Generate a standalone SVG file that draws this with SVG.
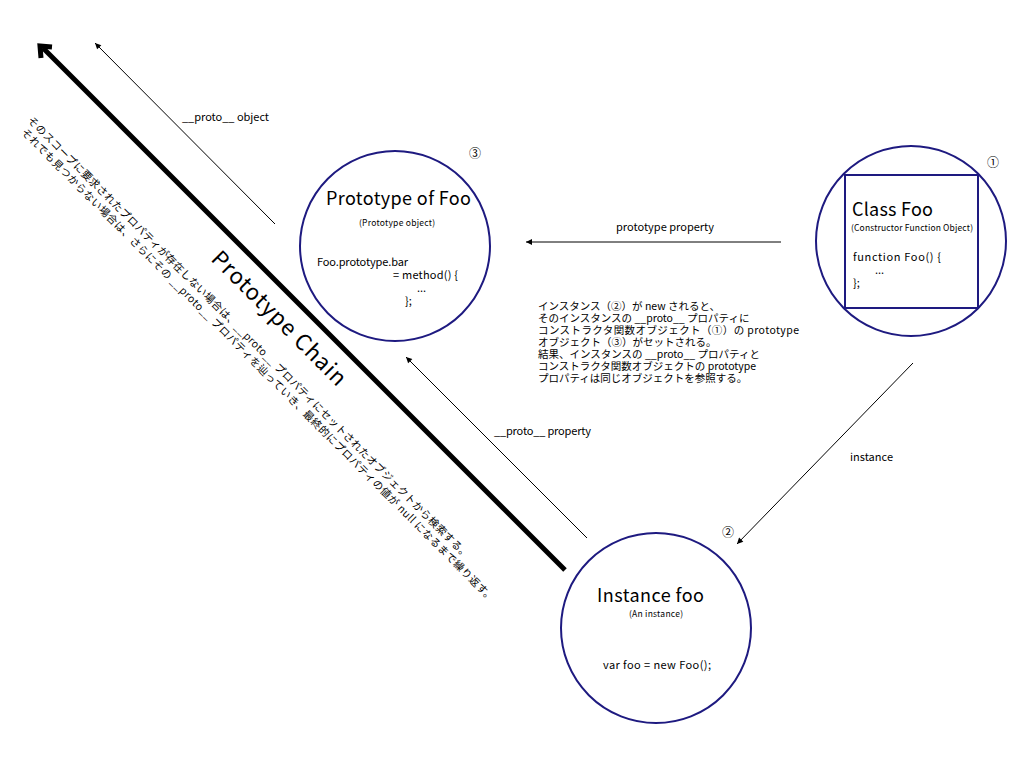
<svg xmlns="http://www.w3.org/2000/svg" width="1024" height="768" viewBox="0 0 1024 768">
<defs>
<style>
text{font-family:"Noto Sans CJK JP","DejaVu Sans",sans-serif;fill:#000}
.node{fill:none;stroke:#1e1a80;stroke-width:2}
.t18{font-size:18px}
.t11{font-size:11px}
.tj{font-size:10.5px}
.t8{font-size:8.5px}
.num{font-size:12px;text-anchor:middle}
.thin{stroke:#000;stroke-width:1;fill:none;marker-end:url(#ah)}
</style>
<marker id="ah" viewBox="0 0 10 10" refX="10" refY="5" markerWidth="8" markerHeight="6" markerUnits="userSpaceOnUse" orient="auto">
<path d="M0,0 L10,5 L0,10 z" fill="#000"/>
</marker>
</defs>
<rect width="1024" height="768" fill="#fff"/>

<g id="connectors">
<line class="thin" x1="781" y1="242" x2="526" y2="242"/>
<line class="thin" x1="587" y1="538" x2="406" y2="357"/>
<line class="thin" x1="913" y1="363" x2="737" y2="544"/>
<line class="thin" x1="275" y1="224" x2="95" y2="43"/>
<line x1="565" y1="570" x2="43" y2="48" stroke="#000" stroke-width="5"/>
<polyline points="52,47 40,46 41,58" fill="none" stroke="#000" stroke-width="5" stroke-linejoin="miter"/>
<text class="t11" x="616" y="231" textLength="98">prototype property</text>
<text class="t11" x="494" y="435" textLength="97">__proto__ property</text>
<text class="t11" x="850" y="461" textLength="43">instance</text>
<text class="t11" x="182" y="121" textLength="87">__proto__ object</text>
</g>

<g id="prototype-chain-label">
<text font-size="22" transform="translate(210,260) rotate(45)" textLength="180">Prototype Chain</text>
<g transform="translate(27,121) rotate(45)">
<text class="tj" x="0" y="0" textLength="620">そのスコープに要求されたプロパティが存在しない場合は、__proto__ プロパティにセットされたオブジェクトから検索する。</text>
<text class="tj" x="4" y="13" textLength="664">それでも見つからない場合は、さらにその __proto__ プロパティを辿っていき、最終的にプロパティの値が null になるまで繰り返す。</text>
</g>
</g>

<g id="prototype-of-foo">
<circle class="node" cx="395" cy="246" r="95"/>
<text class="num" x="475" y="158">③</text>
<text class="t18" x="326" y="205" textLength="145">Prototype of Foo</text>
<text class="t8" x="359" y="226" textLength="76">(Prototype object)</text>
<text class="t11" x="317" y="266" textLength="91">Foo.prototype.bar</text>
<text class="t11" x="393" y="279" textLength="65">= method()  {</text>
<text class="t11" x="417" y="292">...</text>
<text class="t11" x="405" y="305">};</text>
</g>

<g id="class-foo">
<circle class="node" cx="911" cy="241" r="95"/>
<rect class="node" x="845" y="175" width="133" height="133"/>
<text class="num" x="993" y="167">①</text>
<text class="t18" x="852" y="216" textLength="81">Class Foo</text>
<text class="t8" x="851" y="231" textLength="122">(Constructor Function Object)</text>
<text class="t11" x="853" y="261" textLength="88">function Foo()  {</text>
<text class="t11" x="875" y="274">...</text>
<text class="t11" x="853" y="287">};</text>
</g>

<g id="instance-foo">
<circle class="node" cx="656" cy="628" r="95"/>
<text class="num" x="728" y="537">②</text>
<text class="t18" x="597" y="602" textLength="107">Instance foo</text>
<text class="t8" x="629" y="617" textLength="54">(An instance)</text>
<text class="t11" x="603" y="669" textLength="108">var foo = new Foo();</text>
</g>

<g id="explanation">
<text class="tj" x="538" y="310">インスタンス（②）が new されると、</text>
<text class="tj" x="538" y="322">そのインスタンスの __proto__ プロパティに</text>
<text class="tj" x="538" y="334" textLength="261">コンストラクタ関数オブジェクト（①）の prototype</text>
<text class="tj" x="538" y="346">オブジェクト（③）がセットされる。</text>
<text class="tj" x="538" y="358">結果、インスタンスの __proto__ プロパティと</text>
<text class="tj" x="538" y="370">コンストラクタ関数オブジェクトの prototype</text>
<text class="tj" x="538" y="382">プロパティは同じオブジェクトを参照する。</text>
</g>
</svg>
